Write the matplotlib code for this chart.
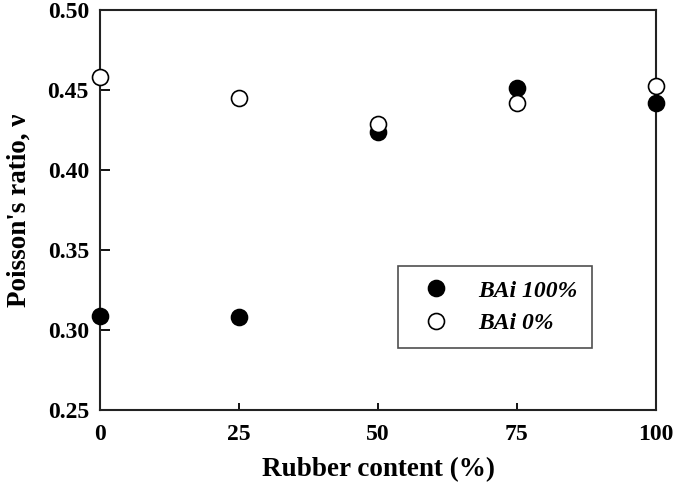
import matplotlib.pyplot as plt

# Data
rubber = [0, 25, 50, 75, 100]
bai_100 = [0.309, 0.3083, 0.4238, 0.451, 0.4421]
bai_0 = [0.4583, 0.4452, 0.4288, 0.4417, 0.4527]

plt.rcParams['font.family'] = ['Liberation Serif', 'DejaVu Serif']
plt.rcParams['font.weight'] = 'bold'

fig = plt.figure(figsize=(6.8, 4.95), dpi=100)
ax = fig.add_axes([100 / 680, 85 / 495, 556 / 680, 400 / 495])

ax.plot(rubber, bai_100, 'o', ms=11.5, mfc='black', mec='black', mew=1.2,
        label='BAi 100%', clip_on=False, zorder=3)
ax.plot(rubber, bai_0, 'o', ms=11.5, mfc='white', mec='black', mew=1.2,
        label='BAi 0%', clip_on=False, zorder=4)

ax.set_xlim(0, 100)
ax.set_ylim(0.25, 0.50)
ax.set_xticks(rubber)
ax.set_yticks([0.25, 0.30, 0.35, 0.40, 0.45, 0.50])
ax.set_yticklabels(['0.25', '0.30', '0.35', '0.40', '0.45', '0.50'])
ax.tick_params(direction='in', length=5, width=1.3, labelsize=17, pad=10)
ax.tick_params(axis='y', length=7, pad=8)
for sp in ax.spines.values():
    sp.set_linewidth(1.5)
    sp.set_color('#222222')

ax.set_xlabel('Rubber content (%)', fontsize=19.5, fontweight='bold')
ax.set_ylabel("Poisson's ratio, ν", fontsize=19.5, fontweight='bold')
ax.xaxis.set_label_coords(0.5, -0.118)
ax.yaxis.set_label_coords(-0.123, 0.5)

leg = ax.legend(loc='upper left', bbox_to_anchor=(298 / 556, 144 / 400),
                frameon=True, fancybox=False, edgecolor='#222222',
                prop={'style': 'italic', 'weight': 'bold', 'size': 17},
                borderpad=0.6, handletextpad=0.8, labelspacing=0.45,
                handlelength=2.0, borderaxespad=0)
leg.get_frame().set_linewidth(1.2)

fig.savefig('out.png', dpi=100)
